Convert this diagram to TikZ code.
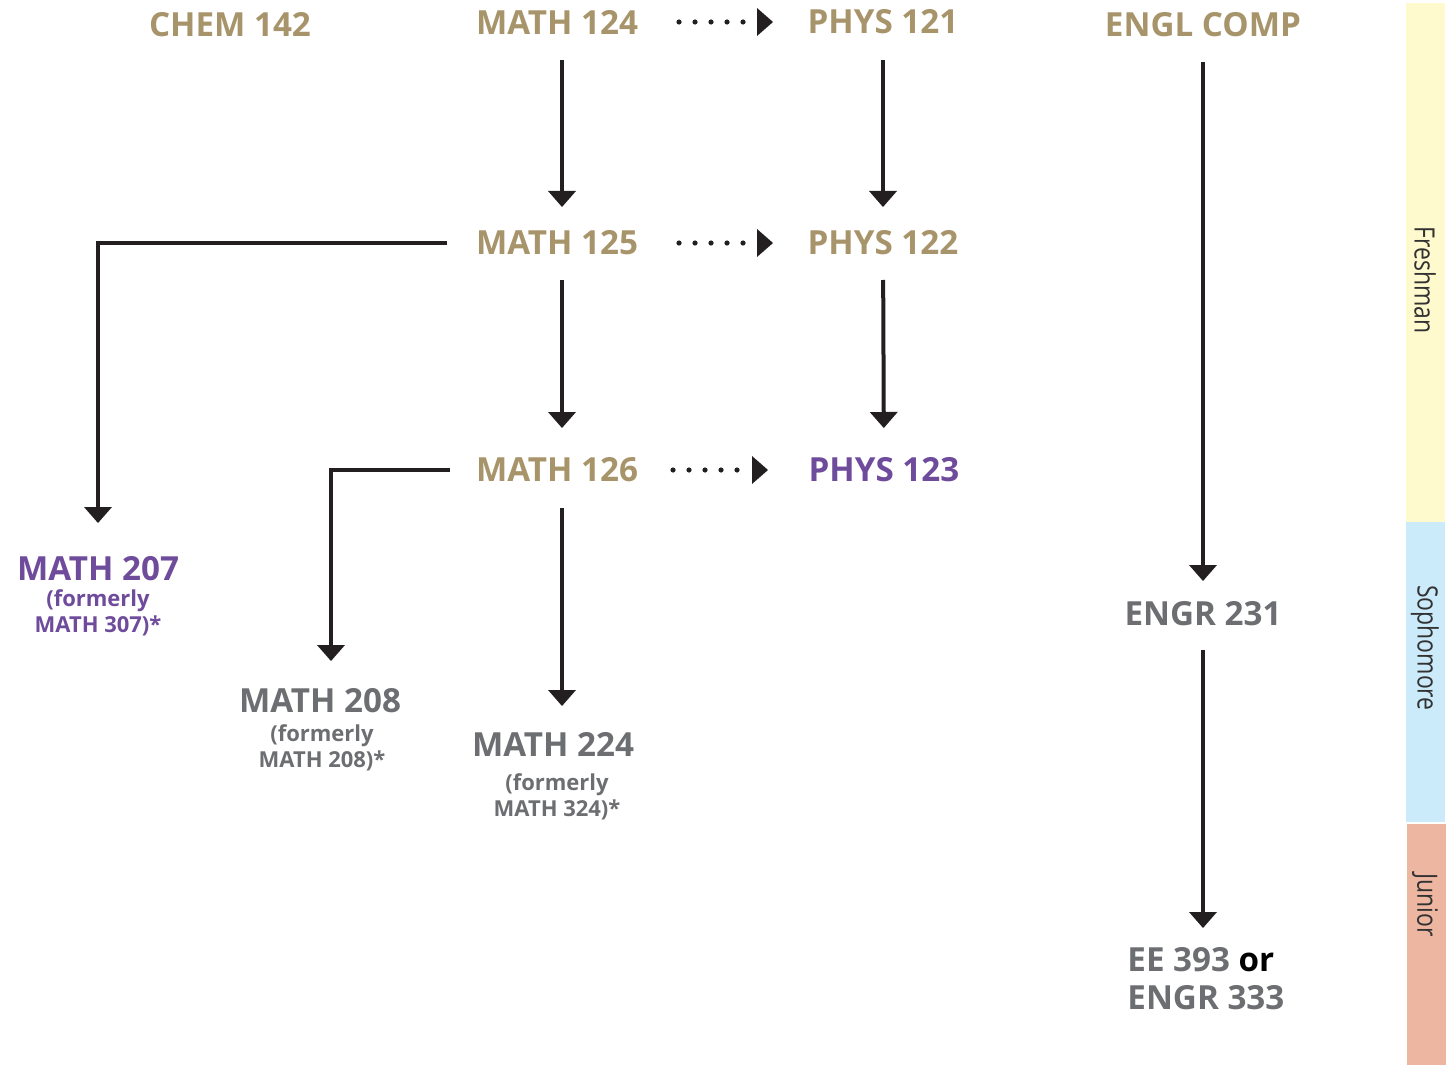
\documentclass[tikz,border=0pt]{standalone}
\usepackage{fontspec}
\setmainfont{Open Sans}
\newfontfamily\sidefont[FakeStretch=0.82]{Open Sans}
\usetikzlibrary{arrows.meta}

\definecolor{uwgold}{RGB}{168,148,106}
\definecolor{uwpurple}{RGB}{111,75,156}
\definecolor{uwgray}{RGB}{109,110,113}
\definecolor{arrowblack}{RGB}{35,31,32}
\definecolor{freshfill}{RGB}{255,250,206}
\definecolor{sophfill}{RGB}{204,235,250}
\definecolor{junfill}{RGB}{237,182,161}

\tikzset{
    course/.style={font=\bfseries\fontsize{16.6}{19}\selectfont, inner sep=0pt},
    goldcourse/.style={course, text=uwgold},
    purplecourse/.style={course, text=uwpurple},
    graycourse/.style={course, text=uwgray},
    oldnum/.style={font=\bfseries\fontsize{11}{13}\selectfont, inner sep=0pt, align=center},
    prereq/.style={draw=arrowblack, line width=2pt,
        -{Triangle[width=14pt,length=8pt,line width=0pt]}},
    coreq/.style={prereq, line width=2.6pt, line cap=round,
        dash pattern=on 0pt off 8pt},
    yearlabel/.style={font=\sidefont\fontsize{14}{16}\selectfont,
        text={rgb,255:red,50;green,50;blue,50}, rotate=-90, inner sep=0pt}
}

\begin{document}
\begin{tikzpicture}[x=0.5pt, y=-0.5pt]
    \useasboundingbox (0,0) rectangle (1452,1065);

    % year bands
    \fill[freshfill] (1406,3) rectangle (1445,522);
    \fill[sophfill] (1406,522) rectangle (1445,822);
    \fill[junfill] (1407,824) rectangle (1446,1065);
    \node[yearlabel] (fresh) at (1425,280) {Freshman};
    \node[yearlabel] (soph) at (1425,648) {Sophomore};
    \node[yearlabel] (junior) at (1425,905) {Junior};

    % freshman
    \node[goldcourse] (chem142) at (230,25) {CHEM 142};
    \node[goldcourse] (m124) at (557,22) {MATH 124};
    \node[goldcourse] (p121) at (883,22) {PHYS 121};
    \node[goldcourse] (engl) at (1203,25) {ENGL COMP};
    \node[goldcourse] (m125) at (557,243) {MATH 125};
    \node[goldcourse] (p122) at (883,243) {PHYS 122};
    \node[goldcourse] (m126) at (557,470) {MATH 126};
    \node[purplecourse] (p123) at (884,470) {PHYS 123};

    % sophomore
    \node[purplecourse] (m207) at (98,569) {MATH 207};
    \node[oldnum, text=uwpurple] (m207old) at (98,613) {(formerly\\MATH 307)*};
    \node[graycourse] (m208) at (320,701) {MATH 208};
    \node[oldnum, text=uwgray] (m208old) at (322,748) {(formerly\\MATH 208)*};
    \node[graycourse] (m224) at (553,744) {MATH 224};
    \node[oldnum, text=uwgray] (m224old) at (557,797) {(formerly\\MATH 324)*};
    \node[graycourse] (engr231) at (1203,614) {ENGR 231};

    % junior
    \node[graycourse, align=left, anchor=west] (ee393) at (1127,979)
        {EE 393 \textcolor{black}{or}\\ENGR 333};

    % math chain
    \draw[prereq, shorten <=19pt, shorten >=18pt]
        ([xshift=2.5pt]m124.center) -- ([xshift=2.5pt]m125.center);
    \draw[prereq, shorten <=18.5pt, shorten >=21pt]
        ([xshift=2.5pt]m125.center) -- ([xshift=2.5pt]m126.center);
    \draw[prereq, shorten <=19pt, shorten >=19pt]
        ([xshift=2.5pt]m126.center) -- ([xshift=2.5pt]m126.center |- m224.center);
    \draw[prereq] ([xshift=-55pt]m125.center) -| ([yshift=23pt]m207.center);
    \draw[prereq] ([xshift=-53.5pt]m126.center) -| ([xshift=5.5pt,yshift=20pt]m208.center);

    % physics chain
    \draw[prereq, shorten <=19pt, shorten >=18pt] (p121.center) -- (p122.center);
    \draw[prereq, shorten <=18.5pt, shorten >=21pt] (p122.center) -- (p123.center);

    % co-requisites
    \draw[coreq, shorten <=61pt, shorten >=55pt] (m124.center) -- (p121.center);
    \draw[coreq, shorten <=61pt, shorten >=55pt] (m125.center) -- (p122.center);
    \draw[coreq, shorten <=58pt, shorten >=58pt] (m126.center) -- (p123.center);

    % writing
    \draw[prereq, shorten <=18.5pt, shorten >=16.5pt] (engl.center) -- (engr231.center);
    \draw[prereq, shorten <=18pt, shorten >=25.5pt] (engr231.center) -- (engr231.center |- ee393.center);
\end{tikzpicture}
\end{document}
